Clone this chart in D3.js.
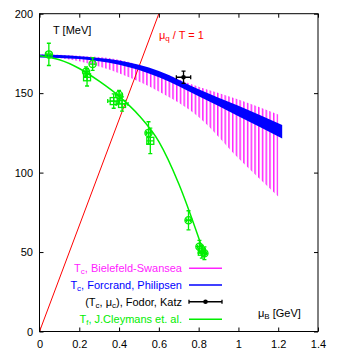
<!DOCTYPE html>
<html lang="en">
<head>
<meta charset="UTF-8">
<title>QCD phase diagram</title>
<script src="https://d3js.org/d3.v7.min.js"></script>
<style>
    body { margin: 0; background: #fff; }
    svg text { font-family: "Liberation Sans", Arial, sans-serif; font-size: 11px; }
    .axis path { display: none; }
    .axis line { stroke: #000; }
</style>
</head>
<body>
<svg id="chart" width="338" height="355"></svg>
<script>
// tick values
const xTicks = [0, 0.2, 0.4, 0.6, 0.8, 1.0, 1.2, 1.4];
const yTicks = [0, 50, 100, 150, 200];

// Bielefeld-Swansea band (hatched)
const bsMu = [0, 0.2, 0.4, 0.6, 0.8, 1.0, 1.2];
const bsHi = [174.5, 173.5, 171, 163.5, 154, 146, 136.5];
const bsLo = [173.5, 170, 162.5, 151, 135, 109, 85];

// Forcrand-Philipsen band (solid blue)
const fpMu = [0, 0.2, 0.4, 0.6, 0.8, 1.0, 1.22];
const fpHi = [174.3, 173.3, 170.5, 164, 152.5, 142, 130];
const fpLo = [172.5, 171.5, 167.8, 160, 148, 135.5, 121.5];

// Fodor-Katz critical point
const fkMu = [0.724];
const fkT = [160];
const fkErrMu = [0.036];
const fkErrT = [3.9];

// Cleymans freeze-out curve
const cfMu = [0, 0.1, 0.2, 0.3, 0.4, 0.5, 0.6, 0.7, 0.8, 0.83];
const cfT = [173.5, 171, 165.5, 157.5, 148, 136, 119.5, 93, 59, 48];

// freeze-out data points
const ptMu = [0.047, 0.234, 0.239, 0.267, 0.373, 0.400, 0.415, 0.548, 0.557, 0.749, 0.804, 0.816, 0.829];
const ptT = [174.4, 163.5, 160, 168.3, 145, 148.8, 143.2, 125, 120, 70, 53.4, 50.2, 49.2];
const ptErrT = [7, 3, 5.5, 4, 4.5, 3, 4.5, 7, 8, 6, 4, 4, 4];
const ptErrMu = [0.01, 0.01, 0, 0, 0.03, 0.01, 0.03, 0.01, 0, 0.01, 0.01, 0.01, 0.01];
const ptShape = ["c", "c", "s", "c", "s", "c", "s", "c", "s", "c", "c", "s", "c"];

// mu_q / T = 1 line  (T = mu_B / 3)
const lineMu = [0, 0.6];
const lineT = [0, 200];

const magenta = "#ff22ff", blue = "#0000ff", green = "#00ee00", red = "#ff0000";

const svg = d3.select("#chart");
const x = d3.scaleLinear().domain([0, 1.4]).range([39.5, 318]);
const y = d3.scaleLinear().domain([0, 200]).range([331.5, 13.7]);

// axes, ticks pointing inward
svg.append("g").attr("class", "axis")
    .attr("transform", "translate(0," + y(0) + ")")
    .call(d3.axisBottom(x).tickValues(xTicks).tickSize(-4).tickPadding(9)
        .tickFormat(d => d3.format("")(+d.toFixed(1))));
svg.append("g").attr("class", "axis")
    .attr("transform", "translate(" + x(0) + ",0)")
    .call(d3.axisLeft(y).tickValues(yTicks).tickSize(-4).tickPadding(6.5));
svg.append("g").attr("class", "axis")
    .attr("transform", "translate(0," + y(200) + ")")
    .call(d3.axisTop(x).tickValues(xTicks).tickSize(-4).tickFormat(""));
svg.append("g").attr("class", "axis")
    .attr("transform", "translate(" + x(1.4) + ",0)")
    .call(d3.axisRight(y).tickValues(yTicks).tickSize(-4).tickFormat(""));
svg.selectAll(".axis text").attr("fill", "#000").style("font-size", "11px")
    .style("font-family", "'Liberation Sans', Arial, sans-serif");

// clip to plot area
svg.append("clipPath").attr("id", "clip").append("rect")
    .attr("x", x(0)).attr("y", y(200))
    .attr("width", x(1.4) - x(0)).attr("height", y(0) - y(200));

const plot = svg.append("g").attr("clip-path", "url(#clip)");

// hatch pattern for Bielefeld-Swansea
const step = 3.73;
const pat = svg.append("defs").append("pattern")
    .attr("id", "hatch")
    .attr("patternUnits", "userSpaceOnUse")
    .attr("x", x(1.2) - 1.5).attr("y", 0)
    .attr("width", step).attr("height", 10);
pat.append("rect").attr("x", 0).attr("y", 0)
    .attr("width", 1.5).attr("height", 10).attr("fill", magenta);

const bsArea = d3.area()
    .x((d, i) => x(bsMu[i]))
    .y0((d, i) => y(bsLo[i]))
    .y1((d, i) => y(bsHi[i]))
    .curve(d3.curveMonotoneX);
plot.append("path").datum(bsMu).attr("d", bsArea).attr("fill", "url(#hatch)");

// red mu_q/T = 1 line
plot.append("path")
    .datum(lineMu)
    .attr("d", d3.line().x((d, i) => x(lineMu[i])).y((d, i) => y(lineT[i])))
    .attr("stroke", red).attr("stroke-width", 1).attr("fill", "none");

// blue band
const fpArea = d3.area()
    .x((d, i) => x(fpMu[i]))
    .y0((d, i) => y(fpLo[i]))
    .y1((d, i) => y(fpHi[i]))
    .curve(d3.curveMonotoneX);
plot.append("path").datum(fpMu).attr("d", fpArea).attr("fill", blue);

// freeze-out curve
plot.append("path")
    .datum(cfMu)
    .attr("d", d3.line().x((d, i) => x(cfMu[i])).y((d, i) => y(cfT[i])).curve(d3.curveMonotoneX))
    .attr("stroke", green).attr("stroke-width", 1.5).attr("fill", "none");

// error bar helper
function errBar(g, cx, cy, exLo, exHi, eyLo, eyHi, color, cap) {
    if (eyHi > eyLo + 0.5) {
        g.append("line").attr("x1", cx).attr("x2", cx).attr("y1", eyLo).attr("y2", eyHi)
            .attr("stroke", color).attr("stroke-width", 1.3);
        g.append("line").attr("x1", cx - cap).attr("x2", cx + cap).attr("y1", eyLo).attr("y2", eyLo)
            .attr("stroke", color).attr("stroke-width", 1.3);
        g.append("line").attr("x1", cx - cap).attr("x2", cx + cap).attr("y1", eyHi).attr("y2", eyHi)
            .attr("stroke", color).attr("stroke-width", 1.3);
    }
    if (exHi > exLo + 0.5) {
        g.append("line").attr("x1", exLo).attr("x2", exHi).attr("y1", cy).attr("y2", cy)
            .attr("stroke", color).attr("stroke-width", 1.3);
        g.append("line").attr("x1", exLo).attr("x2", exLo).attr("y1", cy - cap).attr("y2", cy + cap)
            .attr("stroke", color).attr("stroke-width", 1.3);
        g.append("line").attr("x1", exHi).attr("x2", exHi).attr("y1", cy - cap).attr("y2", cy + cap)
            .attr("stroke", color).attr("stroke-width", 1.3);
    }
}

// green points
const pts = plot.append("g");
ptMu.forEach((m, i) => {
    const cx = x(m), cy = y(ptT[i]);
    errBar(pts, cx, cy, x(m - ptErrMu[i]), x(m + ptErrMu[i]),
        y(ptT[i] + ptErrT[i]), y(ptT[i] - ptErrT[i]), green, 2);
    if (ptShape[i] === "c") {
        pts.append("circle").attr("cx", cx).attr("cy", cy).attr("r", 3.6)
            .attr("fill", "none").attr("stroke", green).attr("stroke-width", 1.3);
    } else {
        pts.append("rect").attr("x", cx - 3.5).attr("y", cy - 3.5).attr("width", 7).attr("height", 7)
            .attr("fill", "none").attr("stroke", green).attr("stroke-width", 1.3);
    }
    pts.append("line").attr("x1", cx - 3.5).attr("x2", cx + 3.5).attr("y1", cy).attr("y2", cy)
        .attr("stroke", green).attr("stroke-width", 1.3);
    pts.append("line").attr("x1", cx).attr("x2", cx).attr("y1", cy - 3.5).attr("y2", cy + 3.5)
        .attr("stroke", green).attr("stroke-width", 1.3);
});

// Fodor-Katz point
const fk = plot.append("g");
fkMu.forEach((m, i) => {
    const cx = x(m), cy = y(fkT[i]);
    errBar(fk, cx, cy, x(m - fkErrMu[i]), x(m + fkErrMu[i]),
        y(fkT[i] + fkErrT[i]), y(fkT[i] - fkErrT[i]), "#000", 2);
    fk.append("circle").attr("cx", cx).attr("cy", cy).attr("r", 2.3).attr("fill", "#000");
});

// frame
svg.append("rect")
    .attr("x", x(0)).attr("y", y(200))
    .attr("width", x(1.4) - x(0)).attr("height", y(0) - y(200))
    .attr("fill", "none").attr("stroke", "#000").attr("stroke-width", 1);

// text with subscripts: array of [text, isSub]
function richText(sel, parts) {
    parts.forEach(p => {
        const t = sel.append("tspan").text(p[0]);
        if (p[1]) t.attr("baseline-shift", "-25%").style("font-size", "8px");
    });
    return sel;
}

richText(svg.append("text").attr("x", 53).attr("y", 34), [["T [MeV]", 0]]);
richText(svg.append("text").attr("x", 159).attr("y", 39).attr("fill", red),
    [["\u03bc", 0], ["q", 1], [" / T = 1", 0]]);
richText(svg.append("text").attr("x", 258).attr("y", 316.5),
    [["\u03bc", 0], ["B", 1], [" [GeV]", 0]]);

// legend
const legLabels = [
    [["T", 0], ["c", 1], [", Bielefeld-Swansea", 0]],
    [["T", 0], ["c", 1], [", Forcrand, Philipsen", 0]],
    [["(T", 0], ["c", 1], [", \u03bc", 0], ["c", 1], ["), Fodor, Katz", 0]],
    [["T", 0], ["f", 1], [", J.Cleymans et. al.", 0]]
];
const legColors = [magenta, blue, "#000", green];
const legY = [268.3, 285, 301.7, 319.3];

legLabels.forEach((parts, i) => {
    const ly = legY[i];
    richText(svg.append("text").attr("x", 182).attr("y", ly + 4)
        .attr("text-anchor", "end").attr("fill", legColors[i]), parts);
    svg.append("line").attr("x1", 189).attr("x2", 222).attr("y1", ly).attr("y2", ly)
        .attr("stroke", legColors[i]).attr("stroke-width", 1.5);
    if (i === 2) {
        svg.append("line").attr("x1", 189).attr("x2", 189).attr("y1", ly - 2).attr("y2", ly + 2)
            .attr("stroke", "#000").attr("stroke-width", 1.3);
        svg.append("line").attr("x1", 222).attr("x2", 222).attr("y1", ly - 2).attr("y2", ly + 2)
            .attr("stroke", "#000").attr("stroke-width", 1.3);
        svg.append("circle").attr("cx", 205.5).attr("cy", ly).attr("r", 2.3).attr("fill", "#000");
    }
});
</script>
</body>
</html>
